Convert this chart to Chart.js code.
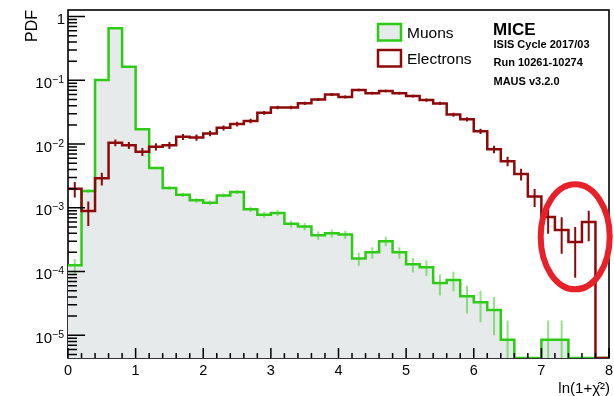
<!DOCTYPE html>
<html>
<head>
<meta charset="utf-8">
<script src="https://cdn.jsdelivr.net/npm/chart.js@4.4.1/dist/chart.umd.min.js"></script>
<style>
  html, body { margin: 0; padding: 0; background: #fff; }
  #wrap { width: 614px; height: 396px; }
</style>
</head>
<body>
<div id="wrap"><canvas id="pidChart" width="614" height="396"></canvas></div>
<script>
// Bin edges on ln(1 + chi^2), 40 bins of 0.2
const BIN_EDGES = [0, 0.2, 0.4, 0.6, 0.8, 1.0, 1.2, 1.4, 1.6, 1.8,
    2.0, 2.2, 2.4, 2.6, 2.8, 3.0, 3.2, 3.4, 3.6, 3.8,
    4.0, 4.2, 4.4, 4.6, 4.8, 5.0, 5.2, 5.4, 5.6, 5.8,
    6.0, 6.2, 6.4, 6.6, 6.8, 7.0, 7.2, 7.4, 7.6, 7.8, 8.0];

// Muon PDF per bin and its uncertainty
const muonPdf = [1.25e-4, 1.84e-3, 0.101, 0.657, 0.164, 0.0171, 4.2e-3, 2.05e-3, 1.6e-3, 1.31e-3,
    1.2e-3, 1.56e-3, 1.77e-3, 9.5e-4, 7.8e-4, 8.3e-4, 5.6e-4, 5.1e-4, 3.7e-4, 4.0e-4,
    3.8e-4, 1.6e-4, 2.0e-4, 3.0e-4, 2.0e-4, 1.3e-4, 1.17e-4, 6.6e-5, 7.4e-5, 4.1e-5,
    3.3e-5, 2.5e-5, 8.5e-6, 0, 0, 8.5e-6, 8.5e-6, 0, 0, 0];
const muonErr = [3.3e-5, 1.25e-4, 9.3e-4, 2.4e-3, 1.2e-3, 3.8e-4, 1.9e-4, 1.3e-4, 1.2e-4, 1.1e-4,
    1.0e-4, 1.15e-4, 1.2e-4, 9.0e-5, 8.1e-5, 8.4e-5, 6.9e-5, 6.6e-5, 5.6e-5, 5.8e-5,
    5.7e-5, 3.7e-5, 4.1e-5, 5.0e-5, 4.1e-5, 3.3e-5, 3.2e-5, 2.4e-5, 2.5e-5, 1.9e-5,
    1.7e-5, 1.5e-5, 8.5e-6, 0, 0, 8.5e-6, 8.5e-6, 0, 0, 0];

// Electron PDF per bin and its uncertainty
const electronPdf = [2.0e-3, 8.9e-4, 2.9e-3, 0.0105, 9.6e-3, 7.6e-3, 9.1e-3, 9.6e-3, 0.0130, 0.0127,
    0.0147, 0.018, 0.0206, 0.023, 0.031, 0.0376, 0.0376, 0.0436, 0.050, 0.060,
    0.055, 0.0705, 0.063, 0.068, 0.063, 0.0566, 0.049, 0.0435, 0.029, 0.0245,
    0.0159, 8.3e-3, 5.4e-3, 3.4e-3, 1.5e-3, 7.2e-4, 4.5e-4, 2.9e-4, 6.0e-4, 0];
const electronErr = [5.5e-4, 3.7e-4, 6.6e-4, 1.25e-3, 1.2e-3, 1.07e-3, 1.17e-3, 1.2e-3, 1.4e-3, 1.38e-3,
    1.48e-3, 1.64e-3, 1.76e-3, 1.86e-3, 2.16e-3, 2.37e-3, 2.37e-3, 2.56e-3, 2.74e-3, 3.0e-3,
    2.87e-3, 3.25e-3, 3.07e-3, 3.19e-3, 3.07e-3, 2.91e-3, 2.71e-3, 2.55e-3, 2.09e-3, 1.92e-3,
    1.54e-3, 1.12e-3, 9.0e-4, 7.1e-4, 4.7e-4, 3.3e-4, 2.6e-4, 2.1e-4, 3.0e-4, 0];

// Axis ticks and labels
const X_TICKS = [0, 1, 2, 3, 4, 5, 6, 7, 8];
const X_TICK_LABELS = ['0', '1', '2', '3', '4', '5', '6', '7', '8'];
const Y_TICKS = [1, 1e-1, 1e-2, 1e-3, 1e-4, 1e-5];
const Y_TICK_LABELS = ['1', '10^\u22121', '10^\u22122', '10^\u22123', '10^\u22124', '10^\u22125'];

const X_MIN = 0, X_MAX = 8;
const Y_MIN = 4.4e-6, Y_MAX = 1.27;

const SERIES_NAMES = ['Muons', 'Electrons'];
const INFO_TITLE = 'MICE';
const INFO_LINES = ['ISIS Cycle 2017/03', 'Run 10261-10274', 'MAUS v3.2.0'];
const X_TITLE = 'ln(1+\u03C7\u0302\u00B2)';
const Y_TITLE = 'PDF';

// Tail region that gets circled (data units)
const TAIL_MARK = { x: 7.5, y: 3.5e-4, rx: 34.5, ry: 52.5 };

const FONT = '"Liberation Sans", Arial, Helvetica, sans-serif';
const GREEN = '#2ccc14';
const GREEN_ERR = 'rgba(60, 200, 40, 0.55)';
const DARK_RED = '#8c0a0a';
const MUON_FILL = '#e6eaea';
const MARK_RED = '#e8202a';

// Empty bins sit on the axis floor so the outline runs along the bottom
function stepPoints(values) {
    const pts = values.map((v, i) => ({ x: BIN_EDGES[i], y: v > 0 ? v : Y_MIN }));
    pts.push({ x: BIN_EDGES[values.length], y: pts[pts.length - 1].y });
    return pts;
}

function drawErrors(ctx, xs, ys, values, errors, color) {
    ctx.save();
    ctx.strokeStyle = color;
    ctx.lineWidth = 2;
    ctx.beginPath();
    values.forEach((v, i) => {
        const e = errors[i];
        if (!(v > 0) || !(e > 0)) return;
        const px = xs.getPixelForValue((BIN_EDGES[i] + BIN_EDGES[i + 1]) / 2);
        const lo = v - e > Y_MIN ? ys.getPixelForValue(v - e) : ys.bottom;
        const hi = ys.getPixelForValue(v + e);
        ctx.moveTo(px, lo);
        ctx.lineTo(px, hi);
    });
    ctx.stroke();
    ctx.restore();
}

function drawPowerLabel(ctx, label, xRight, yBase) {
    const [base, exp] = label.split('^');
    ctx.textAlign = 'right';
    ctx.textBaseline = 'alphabetic';
    if (!exp) {
        ctx.font = `15px ${FONT}`;
        ctx.fillText(base, xRight, yBase);
        return;
    }
    ctx.font = `10.5px ${FONT}`;
    const ew = ctx.measureText(exp).width;
    ctx.fillText(exp, xRight, yBase - 5);
    ctx.font = `15px ${FONT}`;
    ctx.fillText(base, xRight - ew, yBase);
}

const rootStyle = {
    id: 'rootStyle',
    beforeDatasetsDraw(chart) {
        const { ctx, chartArea: a } = chart;
        ctx.save();
        ctx.strokeStyle = '#000';
        ctx.lineWidth = 1.6;
        ctx.strokeRect(a.left, a.top, a.right - a.left, a.bottom - a.top);
        ctx.restore();
    },
    afterDatasetsDraw(chart) {
        const { ctx, chartArea: a, scales: { x, y } } = chart;

        drawErrors(ctx, x, y, muonPdf, muonErr, GREEN_ERR);
        drawErrors(ctx, x, y, electronPdf, electronErr, DARK_RED);

        ctx.save();
        ctx.strokeStyle = '#000';
        ctx.lineWidth = 1.5;
        ctx.beginPath();
        // log ticks on the left, inside the frame
        for (let d = -6; d <= 0; d++) {
            for (let m = 1; m <= 9; m++) {
                const v = m * Math.pow(10, d);
                if (v < Y_MIN || v > Y_MAX) continue;
                const py = y.getPixelForValue(v);
                ctx.moveTo(a.left, py);
                ctx.lineTo(a.left + (m === 1 ? 17 : 9), py);
            }
        }
        // x ticks every 0.2, long ones on integers
        for (let k = 0; k <= 40; k++) {
            const px = x.getPixelForValue(X_MIN + k * 0.2);
            ctx.moveTo(px, a.bottom);
            ctx.lineTo(px, a.bottom - (k % 5 === 0 ? 10 : 5));
        }
        ctx.stroke();

        ctx.fillStyle = '#000';
        Y_TICKS.forEach((v, i) => {
            const py = y.getPixelForValue(v);
            drawPowerLabel(ctx, Y_TICK_LABELS[i], i === 0 ? 65 : 64, py + 7.5);
        });
        ctx.font = `14.5px ${FONT}`;
        ctx.textAlign = 'center';
        ctx.textBaseline = 'alphabetic';
        X_TICKS.forEach((v, i) => {
            ctx.fillText(X_TICK_LABELS[i], x.getPixelForValue(v), a.bottom + 17);
        });

        // axis titles
        ctx.font = `15px ${FONT}`;
        ctx.textAlign = 'right';
        ctx.fillText(X_TITLE, a.right + 1, a.bottom + 35);
        ctx.save();
        ctx.translate(32.5, a.top);
        ctx.rotate(-Math.PI / 2);
        ctx.font = `16px ${FONT}`;
        ctx.textAlign = 'right';
        ctx.textBaseline = 'middle';
        ctx.fillText(Y_TITLE, 0, 0);
        ctx.restore();

        // legend
        ctx.lineWidth = 2.5;
        ctx.fillStyle = MUON_FILL;
        ctx.strokeStyle = GREEN;
        ctx.fillRect(378, 24, 23, 16.5);
        ctx.strokeRect(378, 24, 23, 16.5);
        ctx.strokeStyle = DARK_RED;
        ctx.strokeRect(378, 50, 23, 16.5);
        ctx.fillStyle = '#000';
        ctx.font = `15.5px ${FONT}`;
        ctx.textAlign = 'left';
        ctx.fillText(SERIES_NAMES[0], 407, 38);
        ctx.fillText(SERIES_NAMES[1], 407, 63.5);

        // experiment info
        ctx.font = `bold 17px ${FONT}`;
        ctx.fillText(INFO_TITLE, 493, 34.5);
        ctx.font = `bold 11px ${FONT}`;
        ctx.fillText(INFO_LINES[0], 493.5, 47.5);
        ctx.fillText(INFO_LINES[1], 493.5, 65.5);
        ctx.fillText(INFO_LINES[2], 493.5, 84.5);

        // circle around the electron tail
        ctx.strokeStyle = MARK_RED;
        ctx.lineWidth = 6;
        ctx.beginPath();
        ctx.ellipse(x.getPixelForValue(TAIL_MARK.x), y.getPixelForValue(TAIL_MARK.y),
            TAIL_MARK.rx, TAIL_MARK.ry, 0, 0, Math.PI * 2);
        ctx.stroke();
        ctx.restore();
    }
};

const ctx = document.getElementById('pidChart').getContext('2d');
const pidChart = new Chart(ctx, {
    type: 'line',
    data: {
        datasets: [{
            label: SERIES_NAMES[0],
            data: stepPoints(muonPdf),
            stepped: true,
            borderColor: GREEN,
            borderWidth: 2.5,
            backgroundColor: MUON_FILL,
            fill: 'start',
            pointRadius: 0,
            order: 2
        }, {
            label: SERIES_NAMES[1],
            data: stepPoints(electronPdf),
            stepped: true,
            borderColor: DARK_RED,
            borderWidth: 2.5,
            fill: false,
            pointRadius: 0,
            order: 1
        }]
    },
    options: {
        responsive: false,
        animation: false,
        devicePixelRatio: 1,
        layout: { padding: { left: 68, top: 10, right: 5, bottom: 38 } },
        plugins: {
            legend: { display: false },
            tooltip: { enabled: false }
        },
        scales: {
            x: { type: 'linear', min: X_MIN, max: X_MAX, display: false },
            y: { type: 'logarithmic', min: Y_MIN, max: Y_MAX, display: false }
        }
    },
    plugins: [rootStyle]
});
</script>
</body>
</html>
